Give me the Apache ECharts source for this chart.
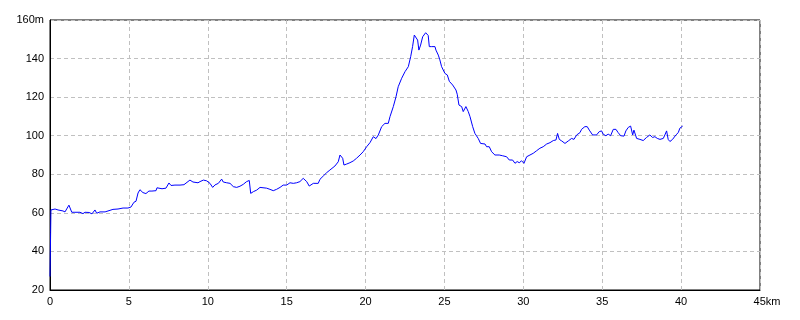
<!DOCTYPE html>
<html>
<head>
<meta charset="utf-8">
<script src="https://cdn.jsdelivr.net/npm/echarts@6/dist/echarts.min.js"></script>
<style>
html,body{margin:0;padding:0;background:#fff;}
#c{width:800px;height:320px;}
</style>
</head>
<body>
<div id="c"></div>
<script>
// distance along route (km)
var distKm = [
0.00,0.04,0.06,0.13,0.32,0.51,0.63,0.82,0.95,1.20,1.38,1.58,1.90,2.09,2.22,2.34,2.47,2.66,2.85,2.96,
3.17,3.49,3.61,3.99,4.31,4.63,4.75,4.94,5.13,5.32,5.45,5.58,5.70,5.89,6.08,6.27,6.46,6.72,6.78,7.10,
7.16,7.35,7.54,7.67,7.92,8.24,8.49,8.87,9.06,9.38,
9.51,9.72,9.93,10.14,10.31,10.46,10.67,10.88,10.98,11.20,11.41,11.62,11.83,12.04,12.25,12.46,12.63,12.72,12.89,13.10,
13.31,13.73,13.94,14.15,14.36,14.58,14.78,15.00,15.21,15.42,15.63,15.84,16.05,16.16,16.27,16.43,16.69,17.00,17.11,17.32,
17.53,17.74,17.85,18.06,18.27,18.38,18.55,18.63,18.80,19.01,19.22,19.43,19.65,19.85,20.07,20.28,
20.49,20.66,20.81,21.02,21.23,21.44,21.55,21.76,21.93,22.07,22.29,22.50,22.71,22.86,22.98,23.09,23.19,23.30,23.38,23.49,
23.62,23.70,23.81,23.91,23.97,24.04,24.19,24.40,24.46,24.55,24.61,24.71,24.82,25.03,25.18,25.31,25.52,25.73,25.81,25.92,
26.09,26.19,26.36,26.51,26.62,26.79,26.93,27.14,27.29,27.57,27.67,27.84,27.99,28.20,28.47,28.56,28.69,28.94,29.11,
29.32,29.47,29.61,29.74,29.89,30.04,30.21,30.42,30.63,30.84,31.05,31.26,31.48,31.69,31.90,32.07,32.17,32.28,32.43,32.64,
32.85,33.06,33.21,33.38,33.59,33.69,33.90,34.05,34.18,34.39,34.64,34.81,34.96,35.06,35.23,35.38,35.53,35.70,35.87,36.01,
36.17,36.38,36.50,36.65,36.80,36.93,37.01,37.18,37.39,37.60,37.81,38.02,38.19,38.34,38.49,38.66,38.87,38.97,39.08,39.18,
39.29,39.46,39.67,39.82,39.92,40.10
];
// elevation (m)
var elevM = [
27,50,61.5,62,62,61.5,62,61,60.5,64,60.3,60.3,60.3,59.6,60.3,59.4,60.2,59.5,61.5,59.8,
60.5,60.5,61.5,61.8,62,62.5,63,62.5,63,65.5,66,70.3,72,70.5,70,71.3,71.3,71.5,73,72.5,
73.5,72.8,75.5,74.2,74.4,74.4,74.6,77,76,75.6,
76.2,77,76.6,75.3,73.2,74.5,75.3,77.5,76,75.6,75.3,73.6,73.2,73.8,74.8,76.2,76.8,70.1,71,71.8,
73.2,72.8,72.2,71.5,72.2,73.2,74.4,74.4,75.6,75.3,75.6,76.2,77.9,78.4,76.2,73.9,75.3,75.3,77.4,79.1,
80.8,82.2,81.3,84.3,86.5,90,88.3,84.8,85.3,86,86.9,88.3,90,91.7,94.3,96.4,
99.5,98.5,100.4,104.7,106.4,106.4,109.9,115.1,120.2,125.4,129.8,133.2,135.8,141,146.2,152.2,152.2,149.6,144.4,147,
151.3,150.5,153.4,154,152,146.2,146.2,146.2,144.4,145,141.8,139.3,135.8,132.3,131.5,128.2,126.3,123.7,121.5,115.9,
115.1,112.5,115.1,112.5,109.9,104.7,101.2,98.6,96,95.7,94.3,94.3,91.7,90,90,90.9,89.6,89.1,87.4,
87.4,85.7,86.6,86,87,85.7,89.1,90,90.9,92.2,93.5,94.3,95.7,96.4,97.5,97.8,101.2,98.1,97.3,96,
97.3,98.6,98.1,100.4,101.6,103.3,104.7,104.7,102.9,100.4,100.4,102.1,102.5,100.8,100,100.8,100,103.3,103.3,101.6,
100,99.8,102.5,104.3,105,100.4,102.9,98.6,98.1,97.5,99.1,100.4,99.1,99.5,98.6,98.1,98.6,100.4,102.5,98.1,
97,98.1,100.4,101.6,103.9,105
];
var xTicks = [0,5,10,15,20,25,30,35,40,45];
var yTicks = [20,40,60,80,100,120,140,160];

var pts = distKm.map(function(d,i){return [d, elevM[i]];});
var font = 'Liberation Sans, Arial, sans-serif';
var chart = echarts.init(document.getElementById('c'), null, {renderer:'canvas'});
chart.setOption({
  animation:false,
  backgroundColor:'#ffffff',
  grid:{left:50,right:40,top:20,bottom:30,show:true,borderColor:'#000',borderWidth:1,backgroundColor:'transparent'},
  xAxis:{
    type:'value',min:xTicks[0],max:xTicks[xTicks.length-1],interval:5,
    axisLine:{show:true,lineStyle:{color:'#000',width:1}},
    axisTick:{show:false},
    splitLine:{show:true,lineStyle:{color:'#c0c0c0',type:[4,3],width:1}},
    axisLabel:{color:'#000',fontSize:11,fontFamily:font,margin:6,
      formatter:function(v){return v===45?'{k|45km}':String(v);},
      rich:{k:{color:'#000',fontSize:11,fontFamily:font,padding:[0,0,0,14]}}}
  },
  yAxis:{
    type:'value',min:yTicks[0],max:yTicks[yTicks.length-1],interval:20,
    axisLine:{show:true,lineStyle:{color:'#000',width:1}},
    axisTick:{show:false},
    splitLine:{show:true,lineStyle:{color:'#c0c0c0',type:[4,3],width:1}},
    axisLabel:{color:'#000',fontSize:11,fontFamily:font,margin:6,
      formatter:function(v){return v===160?'160m':String(v);}}
  },
  series:[{
    type:'line',data:pts,showSymbol:false,symbol:'none',
    lineStyle:{color:'#0000ff',width:1},
    z:5
  }]
});
</script>
</body>
</html>
